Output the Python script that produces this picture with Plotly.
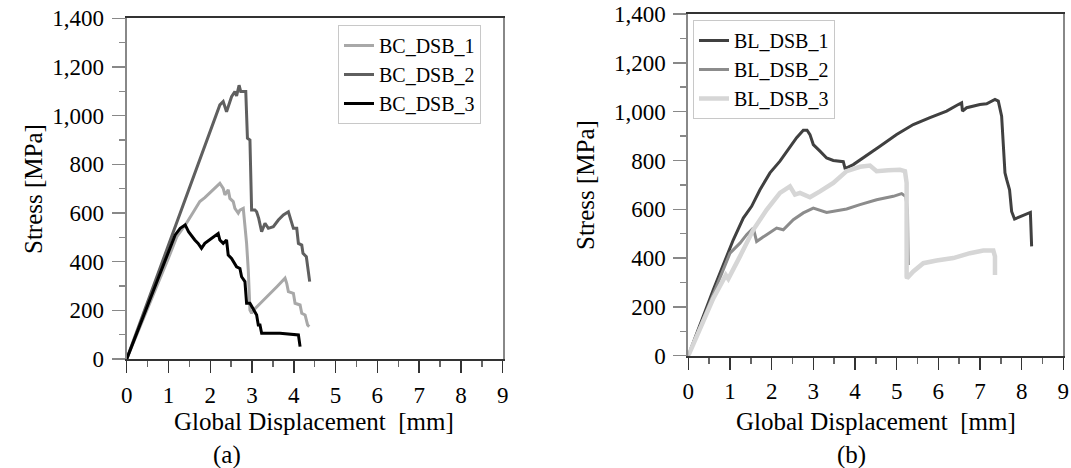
import plotly.graph_objects as go

# ---------------- data: panel (a) ----------------
bc1_x = [0, 0.5, 1.0, 1.2, 1.43, 1.6, 1.75, 1.87, 2.0, 2.1, 2.19, 2.23, 2.31, 2.35, 2.43, 2.47, 2.55, 2.59,
         2.67, 2.71, 2.79, 2.83, 2.87, 2.91, 2.95, 2.99, 3.03, 3.2, 3.4, 3.6, 3.79, 3.83, 3.87, 3.99, 4.03,
         4.15, 4.19, 4.27, 4.33, 4.37]
bc1_y = [0, 205, 415, 503, 558, 605, 647, 663, 685, 700, 715, 722, 701, 674, 695, 660, 647, 619,
         599, 612, 619, 558, 475, 366, 201, 188, 200, 229, 262, 298, 332, 311, 277, 270, 229,
         222, 188, 181, 140, 133]

bc2_x = [0, 2.23, 2.31, 2.39, 2.51, 2.59, 2.63, 2.69, 2.73, 2.85, 2.89, 2.95, 2.99, 3.07, 3.11, 3.16,
         3.23, 3.31, 3.39, 3.51, 3.63, 3.75, 3.87, 3.95, 3.99, 4.07, 4.11, 4.19, 4.22, 4.30, 4.35, 4.38]
bc2_y = [0, 1044, 1058, 1016, 1078, 1099, 1081, 1125, 1099, 1099, 907, 900, 612, 612, 605, 578,
         523, 558, 537, 544, 571, 592, 605, 558, 537, 537, 475, 468, 434, 420, 366, 318]

bc3_x = [0, 1.16, 1.28, 1.40, 1.48, 1.56, 1.63, 1.71, 1.79, 1.87, 1.99, 2.11, 2.19, 2.23, 2.31, 2.39,
         2.43, 2.51, 2.59, 2.63, 2.71, 2.75, 2.83, 2.87, 2.95, 3.07, 3.11, 3.15, 3.19, 3.23, 3.67, 4.11, 4.15]
bc3_y = [0, 510, 537, 551, 523, 503, 489, 475, 455, 475, 489, 503, 516, 489, 475, 489,
         427, 413, 393, 379, 372, 338, 318, 229, 229, 188, 181, 140, 140, 106, 106, 99, 51]

# ---------------- data: panel (b) ----------------
bl1_x = [0, 0.60, 1.08, 1.32, 1.52, 1.72, 1.96, 2.20, 2.40, 2.60, 2.76, 2.85, 2.92, 3.00, 3.16, 3.32,
         3.48, 3.64, 3.72, 3.76, 3.80, 3.96, 4.20, 4.60, 5.00, 5.40, 5.80, 6.20, 6.48, 6.56, 6.58, 6.68,
         7.00, 7.16, 7.36, 7.44, 7.52, 7.56, 7.60, 7.64, 7.71, 7.76, 7.83, 8.21, 8.24]
bl1_y = [0, 270, 475, 564, 612, 680, 749, 797, 845, 893, 924, 924, 906, 865, 838, 810,
         800, 797, 795, 769, 770, 783, 810, 858, 906, 947, 975, 1002, 1029, 1036, 1002, 1016,
         1029, 1032, 1050, 1043, 981, 872, 749, 722, 680, 591, 560, 587, 448]

bl2_x = [0, 0.6, 1.0, 1.24, 1.40, 1.56, 1.60, 1.64, 1.88, 2.12, 2.28, 2.52, 2.76, 3.0, 3.32, 3.56,
         3.80, 4.12, 4.52, 4.92, 5.12, 5.22, 5.26, 5.28]
bl2_y = [0, 255, 420, 461, 496, 523, 500, 468, 496, 523, 516, 557, 585, 605, 587, 595,
         601, 619, 639, 653, 664, 652, 598, 372]

bl3_x = [0, 0.6, 0.90, 0.96, 1.24, 1.56, 1.88, 2.20, 2.44, 2.56, 2.68, 2.92, 3.16, 3.48, 3.80, 4.12,
         4.36, 4.52, 4.80, 5.08, 5.20, 5.24, 5.24, 5.25, 5.40, 5.64, 5.96, 6.36, 6.76, 7.08, 7.32, 7.36, 7.36]
bl3_y = [0, 235, 330, 315, 407, 516, 598, 667, 694, 660, 667, 649, 673, 708, 756, 774,
         779, 756, 760, 762, 756, 708, 324, 318, 345, 379, 390, 400, 420, 431, 431, 407, 331]

x_ticks = [0, 1, 2, 3, 4, 5, 6, 7, 8, 9]
y_ticks = [0, 200, 400, 600, 800, 1000, 1200, 1400]

FONT = "Liberation Serif, Times New Roman, Times, DejaVu Serif, serif"

fig = go.Figure()
series_a = [("BC_DSB_1", bc1_x, bc1_y, "#a8a8a8", 3),
            ("BC_DSB_2", bc2_x, bc2_y, "#5f5f5f", 3),
            ("BC_DSB_3", bc3_x, bc3_y, "#000000", 3)]
series_b = [("BL_DSB_1", bl1_x, bl1_y, "#404040", 3),
            ("BL_DSB_2", bl2_x, bl2_y, "#8c8c8c", 3),
            ("BL_DSB_3", bl3_x, bl3_y, "#d6d6d6", 4.5)]

for name, xs, ys, col, w in series_a:
    fig.add_trace(go.Scatter(x=xs, y=ys, mode="lines", name=name,
                             line=dict(color=col, width=w),
                             xaxis="x", yaxis="y", legend="legend"))
for name, xs, ys, col, w in series_b:
    fig.add_trace(go.Scatter(x=xs, y=ys, mode="lines", name=name,
                             line=dict(color=col, width=w),
                             xaxis="x2", yaxis="y2", legend="legend2"))

W, H = 1071, 468


def px(xr):
    return xr / W


def py(yr):
    return 1 - yr / H


def xax(domain, anchor):
    return dict(domain=domain, anchor=anchor, range=[0, 9], tickvals=x_ticks,
                ticks="outside", ticklen=12, tickwidth=1.5, tickcolor="#333",
                showline=True, linecolor="#333", linewidth=2, mirror=True,
                showgrid=False, zeroline=False, automargin=False,
                ticklabelstandoff=2, ticklabeloverflow="allow",
                minor=dict(dtick=0.5, tick0=0, ticks="outside", ticklen=6,
                           tickwidth=1.5, tickcolor="#666", showgrid=False),
                tickfont=dict(family=FONT, size=23, color="black"))


def yax(domain, anchor):
    return dict(domain=domain, anchor=anchor, range=[0, 1400], tickvals=y_ticks,
                tickformat=",d", ticks="outside", ticklen=13, tickwidth=1.5,
                tickcolor="#888", showline=True, linecolor="#888", linewidth=2,
                mirror=True, showgrid=False, zeroline=False, automargin=False,
                ticklabelstandoff=3, ticklabeloverflow="allow",
                minor=dict(dtick=100, tick0=0, ticks="outside", ticklen=6,
                           tickwidth=1.5, tickcolor="#888", showgrid=False),
                tickfont=dict(family=FONT, size=23, color="black"))


def legend(x, y):
    return dict(x=x, y=y, xanchor="left", yanchor="top", bgcolor="white",
                bordercolor="#c8c8c8", borderwidth=1, tracegroupgap=0,
                font=dict(family=FONT, size=20, color="black"))


ann_font = dict(family=FONT, size=25, color="black")
annotations = [
    dict(text="Stress [MPa]", x=px(33), y=py(189), textangle=-90),
    dict(text="Stress [MPa]", x=px(586), y=py(185), textangle=-90),
    dict(text="Global Displacement\u00a0 [mm]", x=px(314), y=py(421)),
    dict(text="Global Displacement\u00a0 [mm]", x=px(876), y=py(421)),
    dict(text="(a)", x=px(227), y=py(455)),
    dict(text="(b)", x=px(851), y=py(455)),
]
for a in annotations:
    a.update(xref="paper", yref="paper", showarrow=False, xanchor="center",
             yanchor="middle", font=ann_font)

fig.update_layout(
    width=W, height=H, autosize=False,
    font=dict(family=FONT, size=22, color="black"),
    margin=dict(l=0, r=0, t=0, b=0, pad=0, autoexpand=False),
    paper_bgcolor="white", plot_bgcolor="white",
    xaxis=xax([px(126.7), px(502.7)], "y"),
    yaxis=yax([py(359), py(18.3)], "x"),
    xaxis2=xax([px(688.3), px(1063.3)], "y2"),
    yaxis2=yax([py(355.7), py(14)], "x2"),
    legend=legend(px(338), py(25)),
    legend2=legend(px(693), py(20)),
    annotations=annotations,
    showlegend=True,
    hovermode=False,
)

# remove the default 8px page margin so the figure fills the window exactly
fig.write_html("out.html",
               config={"displayModeBar": False, "staticPlot": True},
               post_script="document.body.style.margin='0px';document.body.style.padding='0px';")
